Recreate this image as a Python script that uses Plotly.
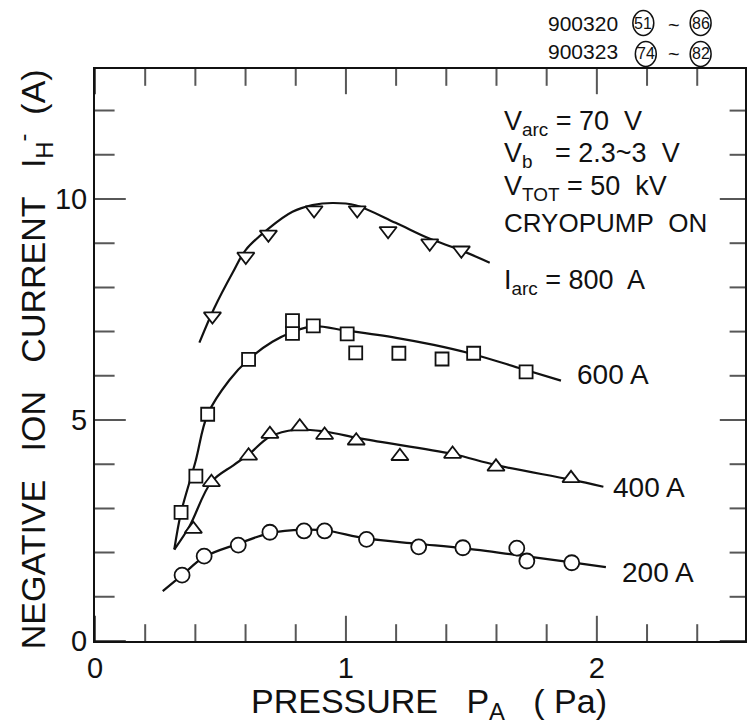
import numpy as np
import plotly.graph_objects as go

# ---------------- data ----------------
# measured points (pressure Pa, current A)
p800 = [0.468, 0.601, 0.691, 0.873, 1.045, 1.168, 1.334, 1.460]
i800 = [7.35, 8.70, 9.20, 9.75, 9.75, 9.28, 9.00, 8.84]

p600 = [0.343, 0.402, 0.449, 0.612, 0.787, 0.787, 0.870, 1.005, 1.039, 1.211, 1.383, 1.509, 1.718]
i600 = [2.91, 3.73, 5.13, 6.37, 6.96, 7.25, 7.13, 6.95, 6.52, 6.51, 6.38, 6.51, 6.09]

p400 = [0.392, 0.464, 0.612, 0.697, 0.816, 0.915, 1.041, 1.215, 1.425, 1.598, 1.897]
i400 = [2.53, 3.59, 4.19, 4.68, 4.85, 4.66, 4.53, 4.18, 4.23, 3.94, 3.68]

p200 = [0.347, 0.435, 0.571, 0.697, 0.833, 0.915, 1.082, 1.290, 1.466, 1.681, 1.721, 1.900]
i200 = [1.49, 1.92, 2.17, 2.46, 2.49, 2.49, 2.30, 2.13, 2.11, 2.10, 1.81, 1.77]

# hand-drawn fitted curves
c800_x = [0.416, 0.475, 0.55, 0.601, 0.694, 0.787, 0.866, 0.946, 1.038, 1.198, 1.33, 1.449, 1.573]
c800_y = [6.75, 7.53, 8.35, 8.85, 9.34, 9.71, 9.86, 9.91, 9.86, 9.46, 9.11, 8.86, 8.56]

c600_x = [0.316, 0.343, 0.40, 0.449, 0.535, 0.612, 0.707, 0.787, 0.866, 1.005, 1.2, 1.35, 1.5, 1.7, 1.857]
c600_y = [2.07, 2.91, 4.05, 5.13, 5.90, 6.37, 6.77, 6.99, 7.12, 7.02, 6.86, 6.70, 6.50, 6.16, 5.89]

c400_x = [0.316, 0.376, 0.464, 0.55, 0.612, 0.697, 0.80, 0.915, 1.041, 1.131, 1.425, 1.598, 1.897, 2.026]
c400_y = [2.07, 2.59, 3.60, 3.97, 4.22, 4.62, 4.78, 4.74, 4.60, 4.51, 4.23, 3.98, 3.65, 3.49]

c200_x = [0.27, 0.347, 0.435, 0.571, 0.697, 0.83, 0.92, 1.08, 1.284, 1.466, 1.70, 1.90, 2.036]
c200_y = [1.13, 1.49, 1.90, 2.20, 2.44, 2.52, 2.50, 2.32, 2.20, 2.10, 1.93, 1.78, 1.67]

x_major_step, x_minor_step = 1, 0.2
y_major_step, y_minor_step = 5, 1

# ---------------- layout geometry ----------------
W, H = 747, 725
ML, MR, MT, MB = 95, 0, 69, 84
PW, PH = W - ML - MR, H - MT - MB
FONT = "Liberation Sans, Arial, sans-serif"
INK = "#111111"


def px(x):
    return (x - ML) / PW


def py(y):
    return (H - MB - y) / PH


XMAX, YMAX = PW / 251.7, PH / 44.2

fig = go.Figure()

# ---- inward ticks: line markers centred on the frame, outer half clipped by the plot area ----
xt = [float(v) for v in np.arange(0, XMAX + 1e-9, x_minor_step)]
yt = [float(v) for v in np.arange(0, YMAX + 1e-9, y_minor_step)]
x_is_major = [abs(v / x_major_step - round(v / x_major_step)) < 1e-6 for v in xt]
y_is_major = [abs(v / y_major_step - round(v / y_major_step)) < 1e-6 for v in yt]

tick_mk = dict(color=INK, line=dict(color=INK, width=2))
# bottom and top edges
fig.add_trace(go.Scatter(x=xt + xt, y=[0] * len(xt) + [YMAX] * len(xt), mode="markers",
                         cliponaxis=True, hoverinfo="skip", showlegend=False,
                         marker=dict(symbol="line-ns", size=[36 if m else 24 for m in x_is_major] * 2,
                                     **tick_mk)))
# left edge
fig.add_trace(go.Scatter(x=[0] * len(yt), y=yt, mode="markers",
                         cliponaxis=True, hoverinfo="skip", showlegend=False,
                         marker=dict(symbol="line-ew", size=[44 if m else 28 for m in y_is_major],
                                     **tick_mk)))
# right edge
fig.add_trace(go.Scatter(x=[XMAX] * len(yt), y=yt, mode="markers",
                         cliponaxis=True, hoverinfo="skip", showlegend=False,
                         marker=dict(symbol="line-ew", size=[36 if m else 22 for m in y_is_major],
                                     **tick_mk)))

curve_line = dict(color=INK, width=2.2, shape="spline", smoothing=1.0)
for cx, cy in [(c800_x, c800_y), (c600_x, c600_y), (c400_x, c400_y), (c200_x, c200_y)]:
    fig.add_trace(go.Scatter(x=cx, y=cy, mode="lines", line=curve_line,
                             hoverinfo="skip", showlegend=False))

mk_line = dict(color=INK, width=1.8)
for xs, ys, sym, sz in [(p800, i800, "triangle-down", 15),
                        (p600, i600, "square", 13),
                        (p400, i400, "triangle-up", 15),
                        (p200, i200, "circle", 15)]:
    fig.add_trace(go.Scatter(x=xs, y=ys, mode="markers",
                             marker=dict(symbol=sym, size=sz, color="white", line=mk_line),
                             showlegend=False))

shapes = []
annotations = []


def note(text, x, y, size, xref="x", yref="y", xanchor="left", yanchor="middle", angle=0):
    annotations.append(dict(text=text, x=x, y=y, xref=xref, yref=yref, xanchor=xanchor,
                            yanchor=yanchor, showarrow=False, textangle=angle,
                            font=dict(family=FONT, size=size, color=INK)))


# condition block
note("V<sub>arc</sub> = 70\u00a0 V", 1.62, 11.72, 27)
note("V<sub>b</sub>\u00a0\u00a0 = 2.3~3\u00a0 V", 1.62, 11.0, 27)
note("V<sub>TOT</sub> = 50\u00a0 kV", 1.62, 10.25, 27)
note("CRYOPUMP\u00a0 ON", 1.62, 9.46, 26)
note("I<sub>arc</sub> = 800\u00a0 A", 1.62, 8.12, 27)
note("600 A", 1.913, 6.02, 28)
note("400 A", 2.056, 3.48, 28)
note("200 A", 2.092, 1.56, 28)

# axis titles
note("NEGATIVE\u00a0\u00a0 ION\u00a0\u00a0 CURRENT\u00a0\u00a0 I<sub>H</sub><sup>-</sup>\u00a0\u00a0(A)",
     px(33), py(359), 34, xref="paper", yref="paper", xanchor="center", angle=-90)
note("PRESSURE\u00a0\u00a0 P<sub>A</sub>\u00a0\u00a0 ( Pa)", px(430), py(703), 34,
     xref="paper", yref="paper", xanchor="center")

# run numbers at top right
note("900320", px(584), py(23), 21, xref="paper", yref="paper", xanchor="center")
note("900323", px(584), py(51), 21, xref="paper", yref="paper", xanchor="center")
for label, cx, cy in [("51", 645, 23), ("86", 702.5, 23), ("74", 647.5, 54), ("82", 702.5, 54)]:
    note(label, px(cx), py(cy), 16, xref="paper", yref="paper", xanchor="center")
    shapes.append(dict(type="circle", xref="paper", yref="paper",
                       x0=px(cx - 10.5), x1=px(cx + 10.5), y0=py(cy + 12.5), y1=py(cy - 12.5),
                       line=dict(color=INK, width=1.5)))
note("~", px(676), py(25), 20, xref="paper", yref="paper", xanchor="center")
note("~", px(676), py(54), 20, xref="paper", yref="paper", xanchor="center")

axis_common = dict(showline=True, linewidth=2, linecolor=INK, mirror=True,
                   ticks="", showgrid=False, zeroline=False, tickmode="linear", tick0=0,
                   tickfont=dict(family=FONT, size=29, color=INK))

fig.update_layout(
    width=W, height=H,
    margin=dict(l=ML, r=MR, t=MT, b=MB),
    paper_bgcolor="white", plot_bgcolor="white",
    showlegend=False,
    annotations=annotations,
    shapes=shapes,
    xaxis=dict(range=[0, XMAX], dtick=x_major_step, **axis_common),
    yaxis=dict(range=[0, YMAX], dtick=y_major_step, **axis_common),
)

fig.write_html("out.html")
